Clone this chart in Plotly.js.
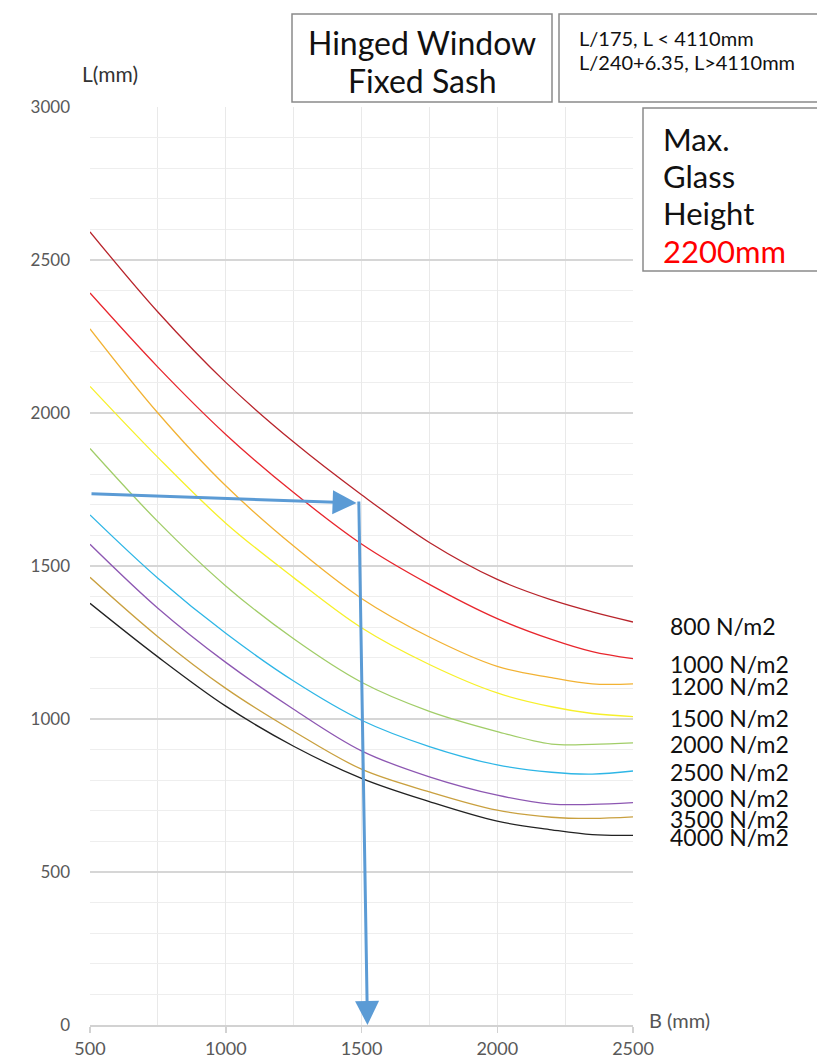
<!DOCTYPE html>
<html>
<head>
<meta charset="utf-8">
<script src="https://cdn.plot.ly/plotly-3.0.1.min.js"></script>
<style>html,body{margin:0;padding:0;background:#fff;}#chart{width:817px;height:1061px;}</style>
</head>
<body>
<div id="chart"></div>
<script>
// ---- data ----
const widthB = [500, 750, 1000, 1250, 1500, 1750, 2000, 2200, 2350, 2500];
const loadLabels = ['800 N/m2','1000 N/m2','1200 N/m2','1500 N/m2','2000 N/m2','2500 N/m2','3000 N/m2','3500 N/m2','4000 N/m2'];
const L800  = [2592, 2330, 2100, 1905, 1733, 1577, 1456, 1389, 1350, 1317];
const L1000 = [2392, 2150, 1930, 1740, 1572, 1440, 1328, 1260, 1220, 1197];
const L1200 = [2275, 2000, 1762, 1565, 1394, 1268, 1172, 1135, 1115, 1115];
const L1500 = [2087, 1855, 1640, 1462, 1298, 1178, 1085, 1040, 1018, 1008];
const L2000 = [1884, 1645, 1435, 1262, 1120, 1025, 959, 918, 917, 922];
const L2500 = [1667, 1460, 1280, 1124, 996, 910, 850, 826, 820, 830];
const L3000 = [1571, 1362, 1185, 1032, 896, 811, 751, 722, 721, 727];
const L3500 = [1463, 1269, 1100, 960, 836, 762, 702, 679, 675, 680];
const L4000 = [1378, 1203, 1042, 911, 806, 730, 666, 638, 622, 620];
const xTicks = [500, 1000, 1500, 2000, 2500];
const yTicks = [0, 500, 1000, 1500, 2000, 2500, 3000];
// example reading arrows (B, L)
const readB = [500, 1482];
const readL = [1736, 1706];
const dropB = [1490, 1522];
const dropL = [1716, 0];

const series = [L800, L1000, L1200, L1500, L2000, L2500, L3000, L3500, L4000];
const colors = ['#b8242b', '#e8262d', '#f2b233', '#f7f02a', '#a1cd68', '#2eb6e6', '#8d57b2', '#c9a03f', '#222222'];
// small vertical nudges (px) of the end labels, as placed in the reference
const labelNudge = [-4, -5, -2, -1, -1, -1, 5, -2, -2];

const FONT = 'Lato, "Open Sans", sans-serif';

const traces = series.map((ys, i) => ({
  x: widthB, y: ys, type: 'scatter', mode: 'lines',
  line: {color: colors[i], width: 1.3, shape: 'spline', smoothing: 1.0},
  name: loadLabels[i], showlegend: false, hoverinfo: 'skip'
}));

// pixel -> paper helpers (plot area: x 90..633, y 107..1025)
const L = 90, R = 184, T = 107, B = 36, W = 817, H = 1061;
const pw = W - L - R, ph = H - T - B;
const px = v => (v - L) / pw;
const py = v => (H - B - v) / ph;

const boxLine = {color: '#8a8a8a', width: 1.5};
const shapes = [
  {type: 'rect', xref: 'paper', yref: 'paper', x0: px(292), x1: px(552), y0: py(102), y1: py(14), line: boxLine, fillcolor: '#fff'},
  {type: 'rect', xref: 'paper', yref: 'paper', x0: px(559), x1: px(830), y0: py(102), y1: py(14), line: boxLine, fillcolor: '#fff'},
  {type: 'rect', xref: 'paper', yref: 'paper', x0: px(643), x1: px(830), y0: py(271), y1: py(108), line: boxLine, fillcolor: '#fff'}
];

const txt = (x, y, text, size, color, xanchor) => ({
  xref: 'paper', yref: 'paper', x: px(x), y: py(y), text: text, showarrow: false,
  xanchor: xanchor || 'left', yanchor: 'middle', align: xanchor === 'center' ? 'center' : 'left',
  font: {family: FONT, size: size, color: color}
});

const annotations = [
  txt(422, 42, 'Hinged Window', 32, '#111', 'center'),
  txt(422, 80, 'Fixed Sash', 32, '#111', 'center'),
  txt(577, 38, 'L/175, L &lt; 4110mm', 20, '#111'),
  txt(577, 62, 'L/240+6.35, L&gt;4110mm', 20, '#111'),
  txt(661, 139, 'Max.', 31, '#111'),
  txt(661, 176, 'Glass', 31, '#111'),
  txt(661, 213, 'Height', 31, '#111'),
  txt(661, 251, '2200mm', 31, '#ff0000'),
  txt(110, 73, 'L(mm)', 21, '#333', 'center'),
  txt(680, 1020, 'B (mm)', 20, '#555', 'center'),
  // reading arrows
  {xref: 'x', yref: 'y', axref: 'x', ayref: 'y', x: readB[1], y: readL[1], ax: readB[0], ay: readL[0],
   showarrow: true, arrowhead: 2, arrowsize: 1.6, arrowwidth: 3, arrowcolor: '#5b9bd5', text: ''},
  {xref: 'x', yref: 'y', axref: 'x', ayref: 'y', x: dropB[1], y: dropL[1], ax: dropB[0], ay: dropL[0],
   showarrow: true, arrowhead: 2, arrowsize: 1.6, arrowwidth: 3, arrowcolor: '#5b9bd5', text: ''}
];
series.forEach((ys, i) => {
  annotations.push({xref: 'paper', yref: 'y', x: px(668), y: ys[ys.length - 1], yshift: labelNudge[i],
    text: loadLabels[i], showarrow: false,
    xanchor: 'left', yanchor: 'middle', font: {family: FONT, size: 23, color: '#111'}});
});

const layout = {
  width: W, height: H,
  margin: {l: L, r: R, t: T, b: B, pad: 0},
  paper_bgcolor: '#fff', plot_bgcolor: '#fff',
  showlegend: false, hovermode: false,
  font: {family: FONT, color: '#595959'},
  xaxis: {
    range: [500, 2500], tickvals: xTicks, ticktext: xTicks.map(String),
    showgrid: true, gridcolor: '#e9e9e9', gridwidth: 1,
    minor: {dtick: 250, tick0: 500, showgrid: true, gridcolor: '#e9e9e9', gridwidth: 1},
    showline: true, linecolor: '#d2d2d2', linewidth: 2,
    ticks: 'outside', ticklen: 6, tickcolor: '#d2d2d2', tickwidth: 1.5,
    tickfont: {family: FONT, size: 18, color: '#595959'}, zeroline: false, fixedrange: true
  },
  yaxis: {
    range: [0, 3000], tickvals: yTicks, ticktext: yTicks.map(String),
    showgrid: true, gridcolor: '#d6d6d6', gridwidth: 2,
    minor: {dtick: 100, tick0: 0, showgrid: true, gridcolor: '#eeeeee', gridwidth: 1},
    showline: false, ticks: '', ticklabelstandoff: 19,
    tickfont: {family: FONT, size: 17, color: '#595959'}, zeroline: false, fixedrange: true
  },
  shapes: shapes,
  annotations: annotations
};

Plotly.newPlot('chart', traces, layout, {displayModeBar: false, staticPlot: true});
</script>
</body>
</html>
